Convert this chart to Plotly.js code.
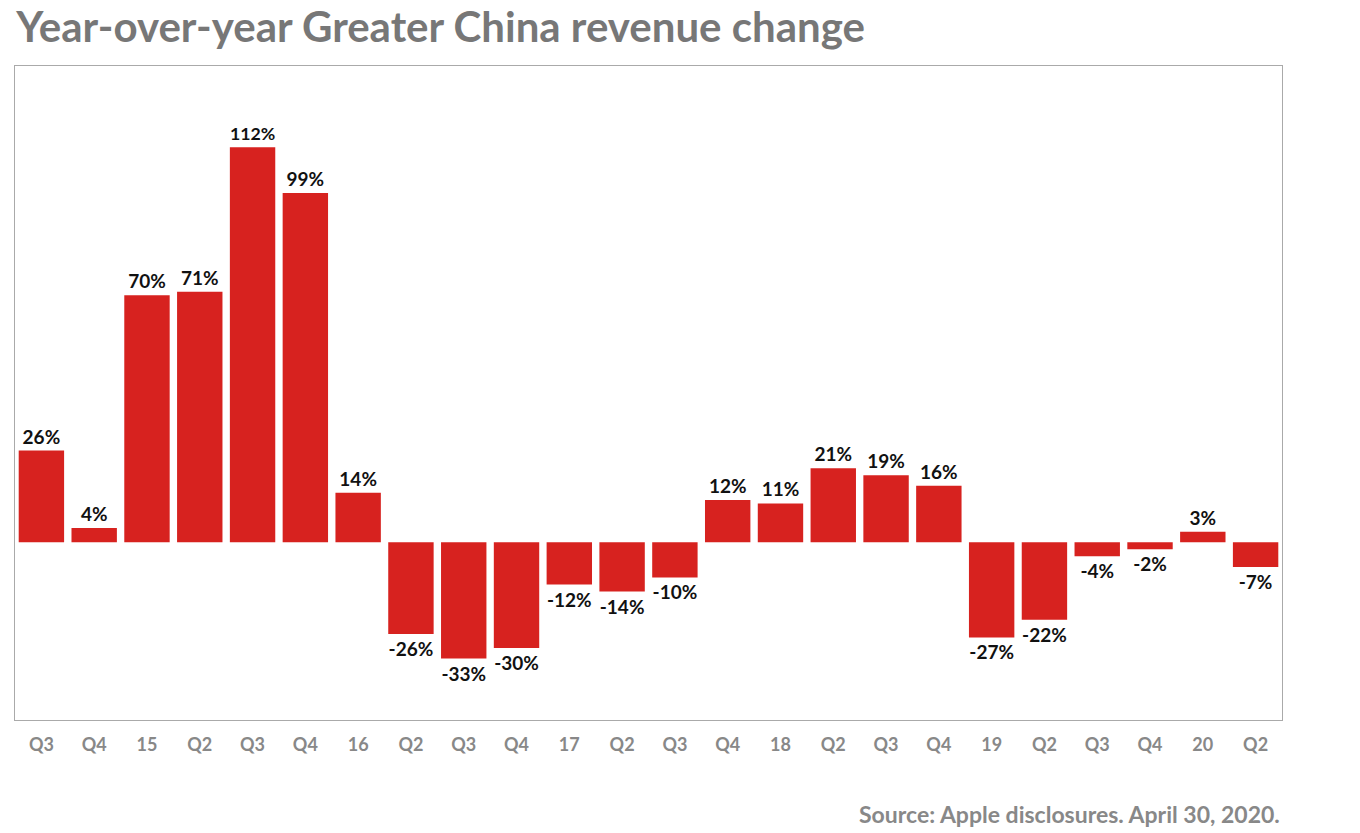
<!DOCTYPE html>
<html>
<head>
<meta charset="utf-8">
<script src="https://cdn.plot.ly/plotly-3.0.1.min.js"></script>
<style>body{margin:0;background:#fff}</style>
</head>
<body>
<div id="chart" style="width:1360px;height:833px"></div>
<script>
const tickLabels = ['Q3','Q4','15','Q2','Q3','Q4','16','Q2','Q3','Q4','17','Q2','Q3','Q4','18','Q2','Q3','Q4','19','Q2','Q3','Q4','20','Q2']
const changePct = [26,4,70,71,112,99,14,-26,-33,-30,-12,-14,-10,12,11,21,19,16,-27,-22,-4,-2,3,-7]
const positions = tickLabels.map((t, i) => i)

const trace = {
    x: positions,
    y: changePct,
    type: 'bar',
    marker: {color: '#d7221f'},
    text: changePct.map(v => v + '%'),
    textposition: 'outside',
    cliponaxis: false,
    textfont: {family: 'Lato, sans-serif', size: 19, color: '#111', weight: 'bold'},
    hoverinfo: 'none'
}

const layout = {
    width: 1360,
    height: 833,
    margin: {l: 15, r: 78, t: 66, b: 113},
    bargap: 0.14,
    showlegend: false,
    paper_bgcolor: '#fff',
    plot_bgcolor: '#fff',
    title: {
        text: '<b>Year-over-year Greater China revenue change</b>',
        x: 0.012, xanchor: 'left', y: 0.985, yanchor: 'top',
        font: {family: 'Lato, sans-serif', size: 42, color: '#777'}
    },
    xaxis: {
        range: [-0.5, 23.5],
        tickvals: positions,
        ticktext: tickLabels,
        showgrid: false, zeroline: false,
        showline: true, mirror: true, linecolor: '#aaa', linewidth: 1,
        ticks: '', ticklabelstandoff: 8,
        tickfont: {family: 'Lato, sans-serif', size: 18, color: '#888', weight: 'bold'}
    },
    yaxis: {
        range: [-50.4, 135],
        showgrid: false, zeroline: false, showticklabels: false,
        showline: true, mirror: true, linecolor: '#aaa', linewidth: 1, ticks: ''
    },
    annotations: [{
        text: '<b>Source: Apple disclosures. April 30, 2020.</b>',
        xref: 'paper', yref: 'paper', x: 1, y: -0.12,
        xanchor: 'right', yanchor: 'top', showarrow: false,
        font: {family: 'Lato, sans-serif', size: 23, color: '#888'}
    }]
}

Plotly.newPlot('chart', [trace], layout, {displayModeBar: false})
</script>
</body>
</html>
